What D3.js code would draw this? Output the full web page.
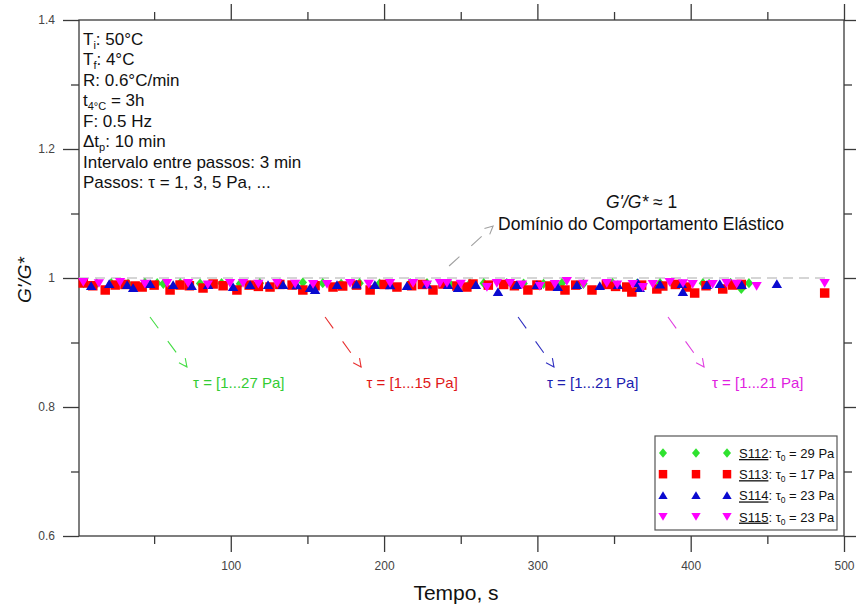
<!DOCTYPE html>
<html>
<head>
<meta charset="utf-8">
<script src="https://cdn.jsdelivr.net/npm/d3@7"></script>
<style>
  html, body { margin: 0; padding: 0; background: #fff; }
  svg { display: block; font-family: "Liberation Sans", Arial, sans-serif; }
</style>
</head>
<body>
<svg id="chart" width="856" height="608"></svg>
<script>
// ---------------- DATA ----------------
const xMajorTicks = [100, 200, 300, 400, 500];
const xMinorTicks = [50, 150, 250, 350, 450];
const yMajorTicks = [0.6, 0.8, 1, 1.2, 1.4];
const yMinorTicks = [0.7, 0.9, 1.1, 1.3];

// S112 (green diamonds)
const s112Time  = [4, 12.6, 22, 33, 44, 52, 56, 67, 80, 94, 106, 119, 132, 147, 160, 172, 184, 197, 217, 228, 243, 256, 265, 280, 291, 304, 316, 330, 349, 365, 380, 388, 408, 412, 426, 433, 438];
const s112Value = [0.992, 0.9915, 0.992, 0.991, 0.9925, 0.992, 0.991, 0.992, 0.9915, 0.992, 0.991, 0.992, 0.9915, 0.993, 0.992, 0.991, 0.992, 0.9915, 0.992, 0.992, 0.991, 0.9915, 0.992, 0.992, 0.9915, 0.991, 0.992, 0.991, 0.992, 0.9915, 0.992, 0.9915, 0.992, 0.991, 0.9925, 0.983, 0.992];

// S113 (red squares)
const s113Time  = [3.8, 10, 18.1, 24.6, 31, 37.6, 42.2, 50, 60.4, 66.9, 73, 81.9, 88.5, 95, 104, 112, 118, 125.6, 132, 140, 147, 155, 166.7, 173, 182, 190.9, 200, 208.4, 218, 225, 231.9, 238.4, 247.5, 254, 258, 268, 278, 285, 293.8, 299.7, 308.2, 318, 325, 335.6, 345, 351, 358.3, 361.6, 368, 377.9, 381.8, 390, 397.4, 402.6, 410, 420.9, 427.4, 433, 487.4];
const s113Value = [0.9922, 0.988, 0.9814, 0.9891, 0.990, 0.9876, 0.986, 0.989, 0.9814, 0.9891, 0.988, 0.9845, 0.9907, 0.988, 0.9814, 0.989, 0.987, 0.986, 0.990, 0.9891, 0.9814, 0.988, 0.986, 0.9876, 0.989, 0.9814, 0.990, 0.986, 0.988, 0.990, 0.9814, 0.9907, 0.9876, 0.986, 0.9907, 0.989, 0.990, 0.988, 0.9814, 0.9891, 0.9876, 0.9814, 0.989, 0.9814, 0.990, 0.987, 0.986, 0.9783, 0.989, 0.983, 0.9876, 0.990, 0.986, 0.9767, 0.988, 0.983, 0.9891, 0.990, 0.9767];

// S114 (blue triangles up)
const s114Time  = [8.9, 20.7, 32.4, 36.3, 47.4, 62.4, 74.5, 85.2, 101.5, 112.6, 124.3, 134.1, 143, 151.7, 155, 169.3, 182, 194, 204, 214.9, 228, 241.7, 248.2, 259.9, 274.3, 286.6, 299.7, 313.3, 325.8, 340.7, 352.5, 365.5, 366.8, 380, 394.2, 394.9, 410.5, 419, 433.3, 456.2];
const s114Value = [0.9876, 0.9907, 0.9891, 0.9845, 0.9907, 0.9891, 0.9876, 0.9891, 0.986, 0.9891, 0.9891, 0.9891, 0.989, 0.9845, 0.9814, 0.9891, 0.990, 0.9891, 0.989, 0.9876, 0.990, 0.9891, 0.9845, 0.9891, 0.9783, 0.9891, 0.9891, 0.986, 0.9891, 0.9876, 0.9891, 0.9922, 0.9845, 0.990, 0.9907, 0.9783, 0.9891, 0.9907, 0.9891, 0.9907];

// S115 (magenta triangles down)
const s115Time  = [3.8, 14, 27.8, 44, 58.5, 72.2, 85, 99.5, 108, 118, 130.3, 142, 153.7, 162.8, 177.8, 190, 203.9, 218.9, 228, 236.4, 241, 250, 267.1, 273.6, 282.1, 290, 301.6, 311.4, 319.2, 330, 345.3, 352, 362.2, 368.8, 375.3, 386.3, 395, 401.3, 414.3, 423.4, 430, 443, 487.4];
const s115Value = [0.9938, 0.992, 0.9938, 0.991, 0.9922, 0.9922, 0.990, 0.9922, 0.9922, 0.991, 0.9922, 0.991, 0.9907, 0.9907, 0.9922, 0.991, 0.9922, 0.9922, 0.990, 0.9922, 0.9922, 0.991, 0.986, 0.9922, 0.9922, 0.990, 0.9876, 0.9907, 0.9953, 0.991, 0.9922, 0.990, 0.9907, 0.986, 0.9907, 0.9938, 0.992, 0.9907, 0.9907, 0.9922, 0.991, 0.9876, 0.9922];

const seriesNames  = ["S112", "S113", "S114", "S115"];
const seriesTau0   = ["29", "17", "23", "23"];
const seriesColors = ["#2fe22f", "#ff0000", "#0a0ad0", "#ff00ff"];
const rangeLabels  = ["τ = [1...27 Pa]", "τ = [1...15 Pa]", "τ = [1...21 Pa]", "τ = [1...21 Pa]"];

// annotation anchors in data units
const arrowStartT = [47.3, 161.5, 287.4, 385.2];
const arrowEndT   = [71.4, 185, 310.8, 408.7];
const arrowStartV = 0.9395;
const arrowEndV   = 0.862;
const rangeLabelT = [75.4, 188.5, 306.3, 413.9];
const rangeLabelV = 0.8295;

const infoLines = [
  [["T",""],["i","sub"],[": 50°C",""]],
  [["T",""],["f","sub"],[": 4°C",""]],
  [["R: 0.6°C/min",""]],
  [["t",""],["4°C","sub"],[" = 3h",""]],
  [["F: 0.5 Hz",""]],
  [["Δt",""],["p","sub"],[": 10 min",""]],
  [["Intervalo entre passos: 3 min",""]],
  [["Passos: τ = 1, 3, 5 Pa, ...",""]]
];

// ---------------- CHART ----------------
const svg = d3.select("#chart");
const L = 79, R = 844, T = 20, B = 536;
const x = d3.scaleLinear().domain([1, 500]).range([L, R]);
const y = d3.scaleLinear().domain([0.6, 1.4]).range([B, T]);
const axisColor = "#3a3a3a";

function styleAxis(g) {
  g.select(".domain").remove();
  g.selectAll(".tick line").attr("stroke", axisColor).attr("stroke-width", 1.3);
  g.selectAll(".tick text").attr("fill", "#444").attr("font-size", 12).attr("font-family", "'Liberation Sans', Arial, sans-serif");
}

svg.append("g").attr("transform", `translate(0,${B})`)
  .call(d3.axisBottom(x).tickValues(xMajorTicks).tickSize(16).tickPadding(9).tickFormat(d3.format("d")).tickSizeOuter(0))
  .call(styleAxis);
svg.append("g").attr("transform", `translate(0,${B})`)
  .call(d3.axisBottom(x).tickValues(xMinorTicks).tickSize(8).tickFormat("").tickSizeOuter(0))
  .call(styleAxis);
svg.append("g").attr("transform", `translate(0,${T})`)
  .call(d3.axisTop(x).tickValues(xMajorTicks).tickSize(16).tickFormat("").tickSizeOuter(0))
  .call(styleAxis);
svg.append("g").attr("transform", `translate(0,${T})`)
  .call(d3.axisTop(x).tickValues(xMinorTicks).tickSize(8).tickFormat("").tickSizeOuter(0))
  .call(styleAxis);
svg.append("g").attr("transform", `translate(${L},0)`)
  .call(d3.axisLeft(y).tickValues(yMajorTicks).tickSize(16).tickPadding(8).tickFormat(d => String(d)).tickSizeOuter(0))
  .call(styleAxis);
svg.append("g").attr("transform", `translate(${L},0)`)
  .call(d3.axisLeft(y).tickValues(yMinorTicks).tickSize(8).tickFormat("").tickSizeOuter(0))
  .call(styleAxis);
svg.append("g").attr("transform", `translate(${R},0)`)
  .call(d3.axisRight(y).tickValues(yMajorTicks).tickSize(16).tickFormat("").tickSizeOuter(0))
  .call(styleAxis);
svg.append("g").attr("transform", `translate(${R},0)`)
  .call(d3.axisRight(y).tickValues(yMinorTicks).tickSize(8).tickFormat("").tickSizeOuter(0))
  .call(styleAxis);

svg.append("rect").attr("x", L).attr("y", T).attr("width", R - L).attr("height", B - T)
  .attr("fill", "none").attr("stroke", axisColor).attr("stroke-width", 1.3);

svg.append("line")
  .attr("x1", x(1)).attr("x2", x(490)).attr("y1", y(1)).attr("y2", y(1))
  .attr("stroke", "#c8c8c8").attr("stroke-width", 1.5).attr("stroke-dasharray", "10,6");

// symbols
const diamondT = { draw(c, s) { const h = Math.sqrt(s) / 2; c.moveTo(0, -h * 1.2); c.lineTo(h, 0); c.lineTo(0, h * 1.2); c.lineTo(-h, 0); c.closePath(); } };
const squareT  = { draw(c, s) { const h = Math.sqrt(s) / 2; c.rect(-h, -h, 2 * h, 2 * h); } };
const triUpT   = { draw(c, s) { const h = Math.sqrt(s) / 2; c.moveTo(0, -h); c.lineTo(h * 1.1, h * 0.85); c.lineTo(-h * 1.1, h * 0.85); c.closePath(); } };
const triDnT   = { draw(c, s) { const h = Math.sqrt(s) / 2; c.moveTo(0, h); c.lineTo(h * 1.1, -h * 0.85); c.lineTo(-h * 1.1, -h * 0.85); c.closePath(); } };
const symTypes = [diamondT, squareT, triUpT, triDnT];
const symSizes = [72, 90, 90, 88];
const legendSizes = [64, 72, 72, 72];

const seriesData = [
  d3.zip(s112Time, s112Value),
  d3.zip(s113Time, s113Value),
  d3.zip(s114Time, s114Value),
  d3.zip(s115Time, s115Value)
];

seriesData.forEach((data, i) => {
  svg.append("g").selectAll("path").data(data).join("path")
    .attr("transform", d => `translate(${x(d[0])},${y(d[1])})`)
    .attr("d", d3.symbol().type(symTypes[i]).size(symSizes[i]))
    .attr("fill", seriesColors[i]);
});

// arrows
function arrow(x0, y0, x1, y1, color) {
  const g = svg.append("g");
  g.append("line").attr("x1", x0).attr("y1", y0).attr("x2", x1).attr("y2", y1)
    .attr("stroke", color).attr("stroke-width", 1.1).attr("stroke-dasharray", "14,16");
  const ang = Math.atan2(y1 - y0, x1 - x0);
  const len = 9, spread = 0.45;
  const p = [
    [x1 - len * Math.cos(ang - spread), y1 - len * Math.sin(ang - spread)],
    [x1, y1],
    [x1 - len * Math.cos(ang + spread), y1 - len * Math.sin(ang + spread)]
  ];
  g.append("path").attr("d", d3.line()(p)).attr("fill", "none").attr("stroke", color).attr("stroke-width", 1.1);
}
const arrowColors = ["#44dd44", "#e83030", "#3030c0", "#e040e0"];
const labelColors = ["#33cc33", "#e01818", "#2020b0", "#e020e0"];
for (let i = 0; i < 4; i++) {
  arrow(x(arrowStartT[i]), y(arrowStartV), x(arrowEndT[i]), y(arrowEndV), arrowColors[i]);
  svg.append("text").attr("x", x(rangeLabelT[i])).attr("y", y(rangeLabelV))
    .attr("font-size", 15).attr("fill", labelColors[i])
    .text(rangeLabels[i]);
}
arrow(x(242.4), y(1.0186), x(271.1), y(1.0806), "#a0a0a0");

svg.append("text").attr("x", x(368)).attr("y", y(1.1085)).attr("text-anchor", "middle")
  .attr("font-size", 17.5).attr("fill", "#111")
  .call(t => { t.append("tspan").attr("font-style", "italic").text("G'/G*"); t.append("tspan").text(" ≈ 1"); });
svg.append("text").attr("x", x(367.6)).attr("y", y(1.0744)).attr("text-anchor", "middle")
  .attr("font-size", 17.5).attr("fill", "#111").text("Domínio do Comportamento Elástico");

// info block
const info = svg.append("g");
infoLines.forEach((parts, i) => {
  const t = info.append("text").attr("x", 83).attr("y", 45 + i * 20.45).attr("font-size", 17).attr("fill", "#111");
  let sub = false;
  parts.forEach(([s, kind]) => {
    const ts = t.append("tspan").text(s);
    if (kind === "sub") { ts.attr("font-size", 11).attr("dy", 4); sub = true; }
    else if (sub) { ts.attr("dy", -4); sub = false; }
  });
});

// legend
const lg = svg.append("g");
lg.append("rect").attr("x", 655).attr("y", 436).attr("width", 182).attr("height", 94)
  .attr("fill", "#fff").attr("stroke", "#555").attr("stroke-width", 1.2);
seriesNames.forEach((name, i) => {
  const cy = 453 + i * 21.2;
  [663, 696, 727].forEach(cx => {
    lg.append("path").attr("transform", `translate(${cx},${cy})`)
      .attr("d", d3.symbol().type(symTypes[i]).size(legendSizes[i]))
      .attr("fill", seriesColors[i]);
  });
  const t = lg.append("text").attr("x", 739).attr("y", cy + 5).attr("font-size", 13).attr("fill", "#111");
  t.append("tspan").attr("text-decoration", "underline").text(name);
  t.append("tspan").text(": τ");
  t.append("tspan").attr("font-size", 8.5).attr("dy", 3).text("0");
  t.append("tspan").attr("dy", -3).text(" = " + seriesTau0[i] + " Pa");
});

// axis titles
svg.append("text").attr("x", 456).attr("y", 600).attr("text-anchor", "middle")
  .attr("font-size", 21).attr("fill", "#111").text("Tempo, s");
svg.append("text").attr("transform", "translate(31,280) rotate(-90)").attr("text-anchor", "middle")
  .attr("font-size", 19).attr("font-style", "italic").attr("fill", "#111").text("G'/G*");
</script>
</body>
</html>
